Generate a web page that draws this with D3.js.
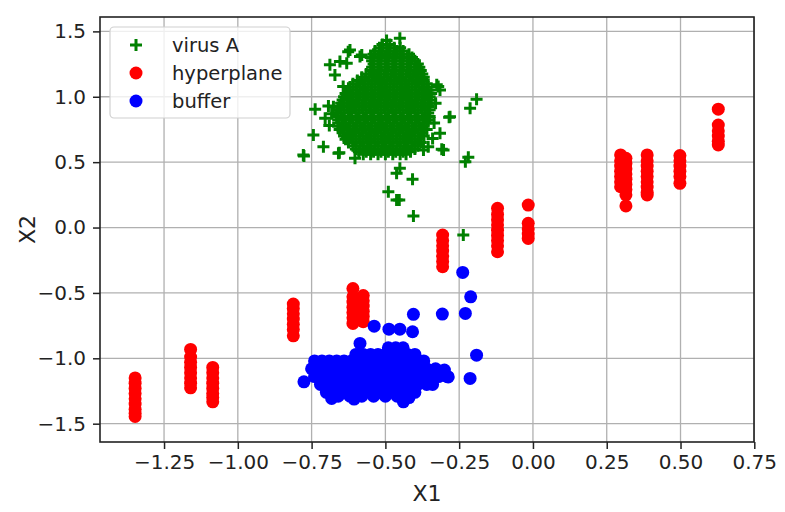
<!DOCTYPE html>
<html>
<head>
<meta charset="utf-8">
<script src="https://cdn.jsdelivr.net/npm/d3@7"></script>
<style>
  body { margin: 0; background: #fff; }
  svg { font-family: 'DejaVu Sans', sans-serif; }
</style>
</head>
<body>
<div id="chart"></div>
<script>
// tick values
var xTicks = [-1.25, -1.0, -0.75, -0.5, -0.25, 0.0, 0.25, 0.5, 0.75]
var yTicks = [-1.5, -1.0, -0.5, 0.0, 0.5, 1.0, 1.5]
var seriesNames = ['virus A', 'hyperplane', 'buffer']

// virus A: dense core, rows of [y, xs]
var virusRows = [
  [1.40, [-0.51, -0.485]],
  [1.35, [-0.535, -0.51, -0.485, -0.46, -0.44]],
  [1.30, [-0.55, -0.525, -0.50, -0.475, -0.45, -0.425, -0.41]],
  [1.25, [-0.54, -0.515, -0.49, -0.465, -0.44, -0.415, -0.39]],
  [1.20, [-0.55, -0.525, -0.50, -0.475, -0.45, -0.425, -0.40, -0.38]],
  [1.15, [-0.58, -0.555, -0.53, -0.505, -0.48, -0.455, -0.43, -0.405, -0.38, -0.37]],
  [1.10, [-0.61, -0.585, -0.56, -0.535, -0.51, -0.485, -0.46, -0.435, -0.41, -0.385, -0.36]],
  [1.05, [-0.625, -0.60, -0.575, -0.55, -0.525, -0.50, -0.475, -0.45, -0.425, -0.40, -0.375, -0.355]],
  [1.00, [-0.64, -0.615, -0.59, -0.565, -0.54, -0.515, -0.49, -0.465, -0.44, -0.415, -0.39, -0.365, -0.35]],
  [0.95, [-0.65, -0.625, -0.60, -0.575, -0.55, -0.525, -0.50, -0.475, -0.45, -0.425, -0.40, -0.375, -0.35]],
  [0.90, [-0.66, -0.64, -0.615, -0.59, -0.565, -0.54, -0.515, -0.49, -0.465, -0.44, -0.415, -0.39, -0.365, -0.35]],
  [0.85, [-0.665, -0.64, -0.615, -0.59, -0.565, -0.54, -0.515, -0.49, -0.465, -0.44, -0.415, -0.39, -0.365, -0.35]],
  [0.80, [-0.66, -0.635, -0.61, -0.585, -0.56, -0.535, -0.51, -0.485, -0.46, -0.435, -0.41, -0.385, -0.36]],
  [0.75, [-0.655, -0.63, -0.605, -0.58, -0.555, -0.53, -0.505, -0.48, -0.455, -0.43, -0.405, -0.38, -0.36]],
  [0.70, [-0.64, -0.615, -0.59, -0.565, -0.54, -0.515, -0.49, -0.465, -0.44, -0.415, -0.39, -0.37]],
  [0.65, [-0.625, -0.60, -0.575, -0.55, -0.525, -0.50, -0.475, -0.45, -0.425, -0.40, -0.38]],
  [0.60, [-0.60, -0.575, -0.55, -0.525, -0.50, -0.475, -0.45, -0.425, -0.40]],
  [0.56, [-0.575, -0.55, -0.525, -0.50, -0.475, -0.45, -0.43]]
]
// virus A: in-between rows of the core
var virusRows2 = [
  [1.375, [-0.52, -0.495, -0.47, -0.45]],
  [1.325, [-0.54, -0.515, -0.49, -0.465, -0.44, -0.42]],
  [1.275, [-0.545, -0.52, -0.495, -0.47, -0.445, -0.42, -0.40]],
  [1.225, [-0.545, -0.52, -0.495, -0.47, -0.445, -0.42, -0.395, -0.385]],
  [1.175, [-0.565, -0.54, -0.515, -0.49, -0.465, -0.44, -0.415, -0.39, -0.375]],
  [1.125, [-0.595, -0.57, -0.545, -0.52, -0.495, -0.47, -0.445, -0.42, -0.395, -0.37]],
  [1.075, [-0.62, -0.595, -0.57, -0.545, -0.52, -0.495, -0.47, -0.445, -0.42, -0.395, -0.37, -0.355]],
  [1.025, [-0.635, -0.61, -0.585, -0.56, -0.535, -0.51, -0.485, -0.46, -0.435, -0.41, -0.385, -0.36, -0.345]],
  [0.975, [-0.645, -0.62, -0.595, -0.57, -0.545, -0.52, -0.495, -0.47, -0.445, -0.42, -0.395, -0.37, -0.345]],
  [0.925, [-0.655, -0.63, -0.605, -0.58, -0.555, -0.53, -0.505, -0.48, -0.455, -0.43, -0.405, -0.38, -0.355]],
  [0.875, [-0.665, -0.65, -0.625, -0.60, -0.575, -0.55, -0.525, -0.50, -0.475, -0.45, -0.425, -0.40, -0.375, -0.355]],
  [0.825, [-0.66, -0.648, -0.623, -0.598, -0.573, -0.548, -0.523, -0.498, -0.473, -0.448, -0.423, -0.398, -0.373, -0.355]],
  [0.775, [-0.66, -0.645, -0.62, -0.595, -0.57, -0.545, -0.52, -0.495, -0.47, -0.445, -0.42, -0.395, -0.37]],
  [0.725, [-0.645, -0.625, -0.60, -0.575, -0.55, -0.525, -0.50, -0.475, -0.45, -0.425, -0.40, -0.375]],
  [0.675, [-0.635, -0.61, -0.585, -0.56, -0.535, -0.51, -0.485, -0.46, -0.435, -0.41, -0.385]],
  [0.625, [-0.61, -0.585, -0.56, -0.535, -0.51, -0.485, -0.46, -0.435, -0.41, -0.39]],
  [0.58, [-0.59, -0.565, -0.54, -0.515, -0.49, -0.465, -0.44, -0.415]]
]
// virus A: scattered points
var virusOut = [
  [-0.776, 0.547], [-0.738, 0.905], [-0.744, 0.708], [-0.710, 0.618], [-0.656, 0.572],
  [-0.688, 1.244], [-0.654, 1.269], [-0.626, 1.345], [-0.580, 1.320], [-0.620, 1.358],
  [-0.586, 1.307], [-0.631, 1.257], [-0.671, 1.167], [-0.643, 1.078], [-0.676, 0.924],
  [-0.704, 0.836], [-0.693, 0.930], [-0.490, 0.274], [-0.462, 0.210], [-0.451, 1.448],
  [-0.496, 1.430], [-0.321, 1.078], [-0.326, 1.091], [-0.315, 1.052], [-0.191, 0.981],
  [-0.213, 0.912], [-0.284, 0.843], [-0.281, 0.848], [-0.309, 0.598], [-0.355, 0.618],
  [-0.219, 0.537], [-0.229, 0.504], [-0.451, 0.453], [-0.462, 0.415], [-0.408, 0.369],
  [-0.453, 0.210], [-0.405, 0.088], [-0.236, -0.057], [-0.303, 0.593], [-0.659, 0.568],
  [-0.603, 0.530], [-0.315, 0.721], [-0.371, 0.593], [-0.778, 0.555], [-0.340, 0.680],
  [-0.682, 0.870], [-0.690, 0.780], [-0.330, 0.950], [-0.335, 0.800]
]

// hyperplane: vertical columns
var hyperCols = [
  { x: -1.348, y: [-1.15, -1.19, -1.23, -1.27, -1.31, -1.35, -1.39, -1.42, -1.445] },
  { x: -1.160, y: [-0.932, -0.99, -1.03, -1.07, -1.11, -1.15, -1.19, -1.226] },
  { x: -1.085, y: [-1.07, -1.11, -1.15, -1.19, -1.23, -1.27, -1.30, -1.333] },
  { x: -0.812, y: [-0.585, -0.62, -0.66, -0.70, -0.74, -0.78, -0.828] },
  { x: -0.610, y: [-0.466, -0.53, -0.57, -0.61, -0.65, -0.69, -0.733] },
  { x: -0.575, y: [-0.52, -0.56, -0.60, -0.64, -0.68, -0.72] },
  { x: -0.306, y: [-0.057, -0.10, -0.14, -0.18, -0.22, -0.26, -0.30] },
  { x: -0.120, y: [0.147, 0.10, 0.06, 0.02, -0.02, -0.06, -0.10, -0.14, -0.185] },
  { x: -0.016, y: [0.172, 0.032, -0.01, -0.05, -0.083] },
  { x: 0.297, y: [0.555, 0.51, 0.47, 0.43, 0.39, 0.35, 0.312] },
  { x: 0.315, y: [0.53, 0.49, 0.45, 0.41, 0.37, 0.33, 0.29, 0.25, 0.165] },
  { x: 0.387, y: [0.555, 0.51, 0.47, 0.43, 0.39, 0.35, 0.31, 0.27, 0.249] },
  { x: 0.498, y: [0.55, 0.51, 0.47, 0.43, 0.39, 0.338] },
  { x: 0.628, y: [0.905, 0.784, 0.74, 0.70, 0.66, 0.631] }
]

// buffer: dense core rows of [y, xs]
var bufferRows = [
  [-0.92, [-0.49, -0.465, -0.44]],
  [-0.97, [-0.60, -0.575, -0.55, -0.525, -0.50, -0.475, -0.45, -0.425, -0.40]],
  [-1.02, [-0.74, -0.715, -0.69, -0.665, -0.64, -0.615, -0.59, -0.565, -0.54, -0.515, -0.49, -0.465, -0.44, -0.415, -0.39, -0.37]],
  [-1.08, [-0.75, -0.72, -0.69, -0.66, -0.63, -0.60, -0.57, -0.54, -0.51, -0.48, -0.45, -0.42, -0.39, -0.36, -0.33]],
  [-1.14, [-0.74, -0.71, -0.68, -0.65, -0.62, -0.59, -0.56, -0.53, -0.50, -0.47, -0.44, -0.41, -0.38, -0.35, -0.32, -0.29]],
  [-1.20, [-0.72, -0.69, -0.66, -0.63, -0.60, -0.57, -0.54, -0.51, -0.48, -0.45, -0.42, -0.39, -0.36, -0.34]],
  [-1.26, [-0.70, -0.67, -0.64, -0.61, -0.58, -0.55, -0.52, -0.49, -0.46, -0.43, -0.40]],
  [-1.29, [-0.66, -0.62, -0.58, -0.54, -0.50, -0.46]]
]
var bufferOut = [
  [-0.238, -0.343], [-0.211, -0.530], [-0.307, -0.662], [-0.229, -0.657], [-0.405, -0.664],
  [-0.538, -0.754], [-0.488, -0.777], [-0.451, -0.777], [-0.408, -0.797], [-0.586, -0.886],
  [-0.191, -0.976], [-0.213, -1.154], [-0.776, -1.180], [-0.682, -1.307], [-0.606, -1.312],
  [-0.439, -1.333], [-0.287, -1.142], [-0.300, -1.090], [-0.420, -1.300]
]

var W = 785, H = 512
var plotL = 100, plotR = 754, plotT = 17, plotB = 442

var x = d3.scaleLinear().domain([-1.467, 0.749]).range([plotL, plotR])
var y = d3.scaleLinear().domain([-1.64, 1.61]).range([plotB, plotT])

var svg = d3.select('#chart').append('svg')
  .attr('width', W)
  .attr('height', H)

// grid
var grid = svg.append('g').attr('stroke', '#b0b0b0').attr('stroke-width', 1.3)
grid.selectAll('.gx').data(xTicks).enter().append('line')
  .attr('x1', d => x(d)).attr('x2', d => x(d))
  .attr('y1', plotT).attr('y2', plotB)
grid.selectAll('.gy').data(yTicks).enter().append('line')
  .attr('y1', d => y(d)).attr('y2', d => y(d))
  .attr('x1', plotL).attr('x2', plotR)

var flatten = rows => {
  var pts = []
  rows.forEach(r => r[1].forEach(v => pts.push([v, r[0]])))
  return pts
}

var virusPts = flatten(virusRows).concat(flatten(virusRows2), virusOut)
var hyperPts = []
hyperCols.forEach(c => c.y.forEach(v => hyperPts.push([c.x, v])))
var bufferPts = flatten(bufferRows).concat(bufferOut)

var plus = 'M-6,0H6M0,-6V6'

svg.append('g').selectAll('path').data(virusPts).enter().append('path')
  .attr('d', plus)
  .attr('transform', d => 'translate(' + x(d[0]) + ',' + y(d[1]) + ')')
  .attr('stroke', '#008000')
  .attr('stroke-width', 3)

svg.append('g').selectAll('circle').data(hyperPts).enter().append('circle')
  .attr('cx', d => x(d[0])).attr('cy', d => y(d[1]))
  .attr('r', 6.5)
  .attr('fill', '#ff0000')

svg.append('g').selectAll('circle').data(bufferPts).enter().append('circle')
  .attr('cx', d => x(d[0])).attr('cy', d => y(d[1]))
  .attr('r', 6.5)
  .attr('fill', '#0000ff')

// axes
var fmtX = d3.format('.2f'), fmtY = d3.format('.1f')
var xAxis = svg.append('g')
  .attr('transform', 'translate(0,' + plotB + ')')
  .call(d3.axisBottom(x).tickValues(xTicks).tickFormat(fmtX).tickSizeOuter(0).tickSize(7).tickPadding(6))
var yAxis = svg.append('g')
  .attr('transform', 'translate(' + plotL + ',0)')
  .call(d3.axisLeft(y).tickValues(yTicks).tickFormat(fmtY).tickSizeOuter(0).tickSize(7).tickPadding(7))

;[xAxis, yAxis].forEach(a => {
  a.select('.domain').remove()
  a.selectAll('line').attr('stroke', '#222').attr('stroke-width', 1.5)
  a.selectAll('text')
    .attr('fill', '#222')
    .style('font-family', "'DejaVu Sans', sans-serif")
    .style('font-size', '20px')
})

svg.append('rect')
  .attr('x', plotL).attr('y', plotT)
  .attr('width', plotR - plotL).attr('height', plotB - plotT)
  .attr('fill', 'none')
  .attr('stroke', '#222')
  .attr('stroke-width', 1.6)

svg.append('text')
  .attr('x', (plotL + plotR) / 2)
  .attr('y', 501)
  .attr('text-anchor', 'middle')
  .attr('font-size', 22)
  .attr('fill', '#222')
  .text('X1')

svg.append('text')
  .attr('transform', 'translate(35,' + (plotT + plotB) / 2 + ') rotate(-90)')
  .attr('text-anchor', 'middle')
  .attr('font-size', 22)
  .attr('fill', '#222')
  .text('X2')

// legend
var lg = svg.append('g')
lg.append('rect')
  .attr('x', 110).attr('y', 27)
  .attr('width', 180).attr('height', 91)
  .attr('rx', 4)
  .attr('fill', 'rgba(255,255,255,0.8)')
  .attr('stroke', '#d0d0d0')
  .attr('stroke-width', 1.2)

var rows = lg.selectAll('.item').data(seriesNames).enter().append('g')
  .attr('transform', (d, i) => 'translate(136,' + (45 + i * 28) + ')')

rows.each(function (d, i) {
  var g = d3.select(this)
  if (i === 0) {
    g.append('path').attr('d', plus).attr('stroke', '#008000').attr('stroke-width', 3)
  } else {
    g.append('circle').attr('r', 6.5).attr('fill', i === 1 ? '#ff0000' : '#0000ff')
  }
  g.append('text')
    .attr('x', 36)
    .attr('y', 7)
    .attr('font-size', 19.5)
    .attr('fill', '#222')
    .text(d)
})
</script>
</body>
</html>
